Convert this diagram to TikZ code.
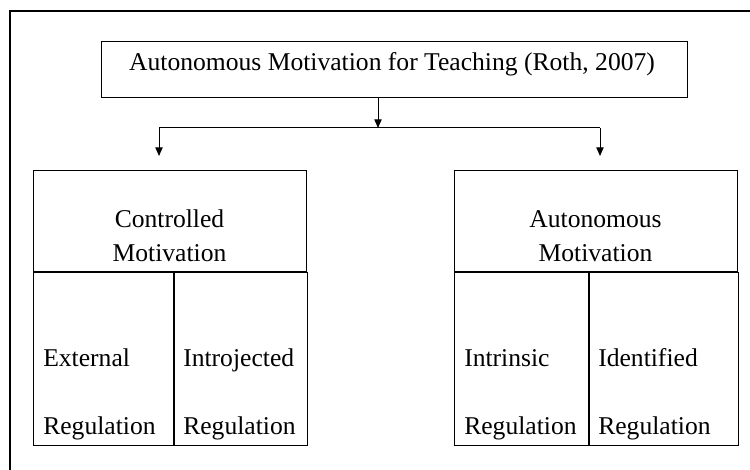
\documentclass[tikz,border=0pt]{standalone}
\usepackage{fontspec}
\setmainfont{Liberation Serif}
\usetikzlibrary{positioning, arrows.meta, calc}
\tikzset{
  box/.style={draw=black, line width=0.75pt, inner sep=0pt},
  lbl/.style={font=\fontsize{19.2}{23}\selectfont, inner sep=0pt, anchor=base},
  lblL/.style={lbl, anchor=base west},
  link/.style={draw=black, line width=0.75pt},
  linkA/.style={link, -{Triangle[width=5.5pt, length=6.5pt]}},
}
\begin{document}
\begin{tikzpicture}[x=0.75pt, y=-0.75pt]
\useasboundingbox (0,0) rectangle (750,470);
\clip (0,0) rectangle (750,470);
\fill[white] (0,0) rectangle (750,470);
% outer frame, cut at the right and bottom
\draw[line width=1.1pt] (10,11) rectangle (780,500);

% top
\node[box, minimum width=586*0.75pt, minimum height=56*0.75pt] (top) at (394,70) {};
\node[lbl] (topT) at (392,71) {Autonomous Motivation for Teaching (Roth, 2007)};

% controlled side
\node[box, minimum width=273*0.75pt, minimum height=101*0.75pt] (ctrl) at (169.5,221.5) {};
\node[box, anchor=north west, minimum width=140*0.75pt, minimum height=172*0.75pt] (ext) at (ctrl.south west) {};
\node[box, anchor=north west, minimum width=133*0.75pt, minimum height=172*0.75pt] (intro) at (ext.north east) {};
\node[lbl] (ctrlA) at (169.5,228) {Controlled};
\node[lbl] (ctrlB) at (169.5,262) {Motivation};
\node[lblL] (extA) at (43,367) {External};
\node[lblL] (extB) at (43,434) {Regulation};
\node[lblL] (introA) at (183,367) {Introjected};
\node[lblL] (introB) at (183,434) {Regulation};

% autonomous side
\node[box, minimum width=283*0.75pt, minimum height=101*0.75pt] (auto) at (595.5,221.5) {};
\node[box, anchor=north west, minimum width=134*0.75pt, minimum height=172*0.75pt] (intr) at (auto.south west) {};
\node[box, anchor=north west, minimum width=149*0.75pt, minimum height=172*0.75pt] (ident) at (intr.north east) {};
\node[lbl] (autoA) at (595.5,228) {Autonomous};
\node[lbl] (autoB) at (595.5,262) {Motivation};
\node[lblL] (intrA) at (464,367) {Intrinsic};
\node[lblL] (intrB) at (464,434) {Regulation};
\node[lblL] (identA) at (598,367) {Identified};
\node[lblL] (identB) at (598,434) {Regulation};

% connectors
\coordinate (split) at (378,128);
\coordinate (lsplit) at (159,128);
\coordinate (rsplit) at (600,128);
\coordinate (lend) at (159,156);
\coordinate (rend) at (600,156);
\draw[linkA] (split |- top.south) -- (split);
\draw[link] (lsplit) -- (rsplit);
\draw[linkA] (lsplit) -- (lend);
\draw[linkA] (rsplit) -- (rend);

\end{tikzpicture}
\end{document}
